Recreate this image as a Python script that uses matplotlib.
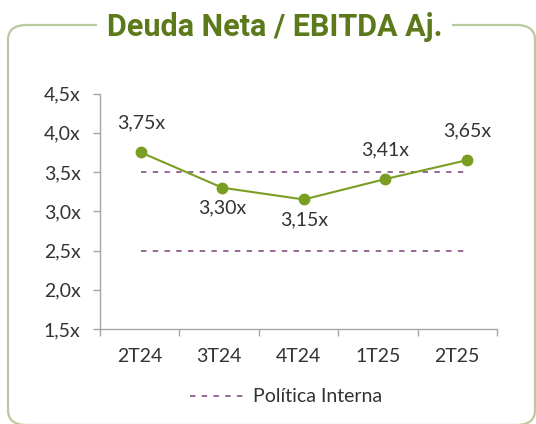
import matplotlib
matplotlib.use("Agg")
import matplotlib.pyplot as plt
from matplotlib.patches import FancyBboxPatch
from matplotlib.lines import Line2D

# datos
periodos = ["2T24", "3T24", "4T24", "1T25", "2T25"]
deuda_ebitda = [3.75, 3.30, 3.15, 3.41, 3.65]
etiquetas = ["3,75x", "3,30x", "3,15x", "3,41x", "3,65x"]
arriba = [True, False, False, True, True]
politica_alta = [3.5, 3.5, 3.5, 3.5, 3.5]
politica_baja = [2.5, 2.5, 2.5, 2.5, 2.5]
yticks = [1.5, 2.0, 2.5, 3.0, 3.5, 4.0, 4.5]
ytick_labels = ["1,5x", "2,0x", "2,5x", "3,0x", "3,5x", "4,0x", "4,5x"]

verde = "#7A9E22"
verde_titulo = "#5C7A1C"
morado = "#8E5E8E"
gris = "#A6A6A6"
texto = "#333333"
guiones = (3, 3.5)

plt.rcParams["font.family"] = ["Lato", "DejaVu Sans"]

fig = plt.figure(figsize=(5.36, 4.24), dpi=100)

# marco redondeado
marco = FancyBboxPatch((8 / 536, -1 / 424), 527 / 536, 400 / 424,
                       boxstyle="round,pad=0,rounding_size=0.035",
                       transform=fig.transFigure, fill=False,
                       edgecolor="#B9CA9C", linewidth=1.6, zorder=0)
fig.patches.append(marco)

fig.text(0.513, 1 - 27 / 424, "Deuda Neta / EBITDA Aj.", ha="center", va="center",
         fontsize=22, fontweight="bold", family="Roboto", color=verde_titulo,
         bbox=dict(facecolor="white", edgecolor="none", pad=7))

ax = fig.add_axes([100 / 536, 1 - 329 / 424, (497 - 100) / 536, (329 - 93.5) / 424])
x = list(range(len(periodos)))

# eje categorico
ax.set_xlim(-0.5, len(periodos) - 0.5)
ax.set_ylim(1.5, 4.5)
ax.set_yticks(yticks)
ax.set_yticklabels(ytick_labels)
ax.set_xticks(x)
ax.set_xticklabels(periodos)
ax.set_xticks([i - 0.5 for i in range(len(periodos) + 1)], minor=True)
ax.tick_params(axis="x", which="major", length=0, pad=14, labelsize=14, labelcolor=texto)
ax.tick_params(axis="x", which="minor", length=5, color=gris, width=1)
ax.tick_params(axis="y", length=5, color=gris, width=1, pad=9, labelsize=14, labelcolor=texto)
for s in ["top", "right"]:
    ax.spines[s].set_visible(False)
for s in ["left", "bottom"]:
    ax.spines[s].set_color(gris)
    ax.spines[s].set_linewidth(1)

# la serie va un poco desplazada respecto al eje, como en el original
ax2 = ax.twiny()
ax2.set_xlim(-0.5, 4.37)
ax2.set_ylim(1.5, 4.5)
ax2.axis("off")

ax2.plot(x, politica_alta, color=morado, lw=1.3, dashes=guiones)
ax2.plot(x, politica_baja, color=morado, lw=1.3, dashes=guiones)
ax2.plot(x, deuda_ebitda, color=verde, lw=1.5, marker="o", markersize=7.5, zorder=3)

for xi, yi, lab, up in zip(x, deuda_ebitda, etiquetas, arriba):
    ax2.annotate(lab, (xi, yi), xytext=(0, 21 if up else -14.5), textcoords="offset points",
                 ha="center", va="center", fontsize=14, color=texto)

handle = Line2D([], [], color=morado, lw=1.3, dashes=guiones)
fig.legend([handle], ["Política Interna"], loc="center", bbox_to_anchor=(0.533, 1 - 397 / 424),
           frameon=False, fontsize=14, labelcolor=texto, handlelength=2.75, handletextpad=0.5)

fig.savefig("out.png", dpi=100, facecolor="white")
